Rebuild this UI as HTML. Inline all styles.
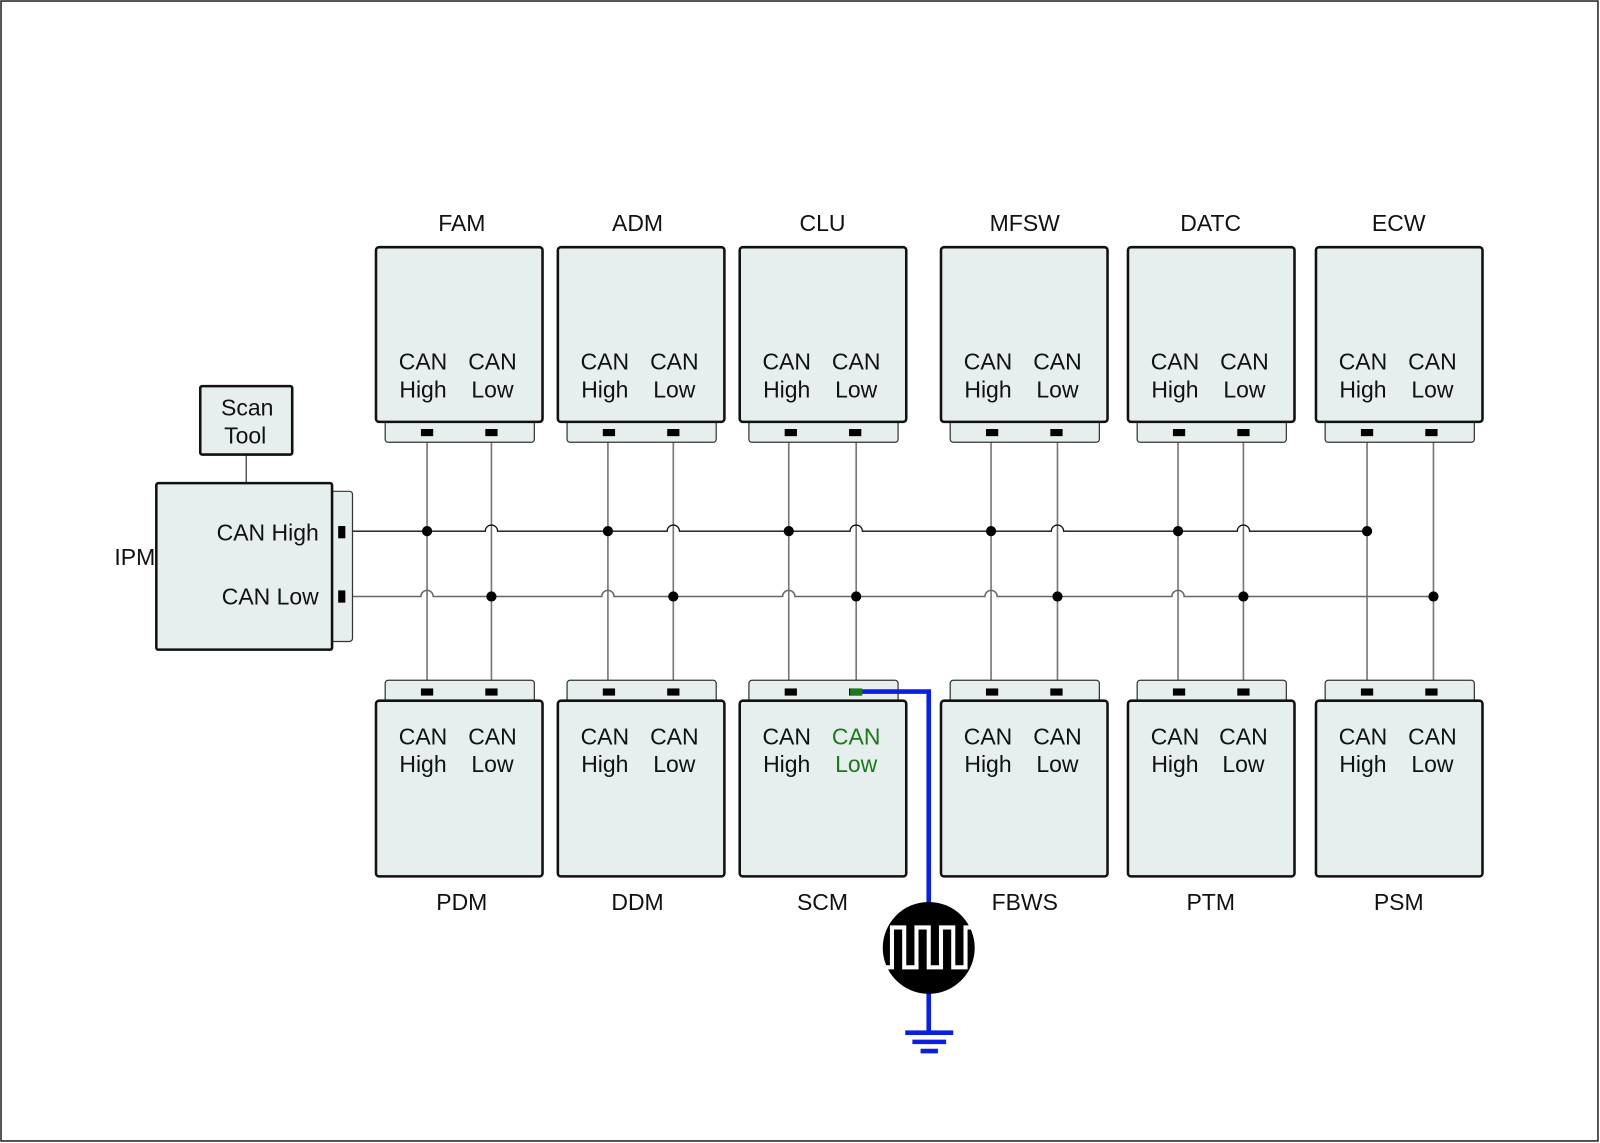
<!DOCTYPE html>
<html><head><meta charset="utf-8"><style>
html,body{margin:0;padding:0;background:#fff}
svg{display:block}
text{font-family:"Liberation Sans",sans-serif;font-size:22.5px;fill:#111}
.b{fill:#e6eeee;stroke:#111;stroke-width:2.5}
.s{fill:#e6eeee;stroke:#333;stroke-width:1.2}
.v{stroke:#777;stroke-width:1.6}
</style></head><body>
<svg width="1600" height="1143" viewBox="0 0 1566 1119" preserveAspectRatio="none" xmlns="http://www.w3.org/2000/svg">
<rect x="1" y="1" width="1563" height="1116" fill="#fff" stroke="#222" stroke-width="1.5"/>
<g class="v">
<line x1="418" y1="423" x2="418" y2="677"/><line x1="481" y1="423" x2="481" y2="677"/>
<line x1="595" y1="423" x2="595" y2="677"/><line x1="659" y1="423" x2="659" y2="677"/>
<line x1="772" y1="423" x2="772" y2="677"/><line x1="838" y1="423" x2="838" y2="677"/>
<line x1="970" y1="423" x2="970" y2="677"/><line x1="1035" y1="423" x2="1035" y2="677"/>
<line x1="1153" y1="423" x2="1153" y2="677"/><line x1="1217" y1="423" x2="1217" y2="677"/>
<line x1="1338" y1="423" x2="1338" y2="677"/><line x1="1403" y1="423" x2="1403" y2="677"/>
</g>
<path d="M335 520 H475 A6 6 0 0 1 487 520 H653 A6 6 0 0 1 665 520 H832 A6 6 0 0 1 844 520 H1029 A6 6 0 0 1 1041 520 H1211 A6 6 0 0 1 1223 520 H1338" fill="none" stroke="#111" stroke-width="1.3"/>
<path d="M335 584 H412 A6 6 0 0 1 424 584 H589 A6 6 0 0 1 601 584 H766 A6 6 0 0 1 778 584 H964 A6 6 0 0 1 976 584 H1147 A6 6 0 0 1 1159 584 H1403" fill="none" stroke="#666" stroke-width="1.5"/>
<g fill="#000">
<circle cx="418" cy="520" r="5"/><circle cx="595" cy="520" r="5"/><circle cx="772" cy="520" r="5"/><circle cx="970" cy="520" r="5"/><circle cx="1153" cy="520" r="5"/><circle cx="1338" cy="520" r="5"/>
<circle cx="481" cy="584" r="5"/><circle cx="659" cy="584" r="5"/><circle cx="838" cy="584" r="5"/><circle cx="1035" cy="584" r="5"/><circle cx="1217" cy="584" r="5"/><circle cx="1403" cy="584" r="5"/>
</g>
<line x1="241" y1="445" x2="241" y2="473" stroke="#444" stroke-width="1.3"/>
<rect class="b" x="196" y="378" width="90" height="67" rx="2"/>
<text x="242" y="407" text-anchor="middle">Scan</text><text x="240" y="434" text-anchor="middle">Tool</text>
<rect class="s" x="318" y="481" width="27" height="147" rx="3"/>
<rect class="b" x="153" y="473" width="172" height="163" rx="2"/>
<rect x="331" y="515" width="7" height="12" fill="#000"/><rect x="331" y="578" width="7" height="12" fill="#000"/>
<text x="312" y="529" text-anchor="end">CAN High</text><text x="312" y="592" text-anchor="end">CAN Low</text>
<text x="112" y="553">IPM</text>
<g id="t">
<rect class="s" x="377" y="405" width="146" height="28" rx="3"/>
<rect class="b" x="368" y="242" width="163" height="171" rx="3"/>
<rect x="412" y="420" width="12" height="7" fill="#000"/><rect x="475" y="420" width="12" height="7" fill="#000"/>
<text x="414" y="362" text-anchor="middle">CAN</text><text x="414" y="389" text-anchor="middle">High</text>
<text x="482" y="362" text-anchor="middle">CAN</text><text x="482" y="389" text-anchor="middle">Low</text>
</g>
<use href="#t" x="178"/><use href="#t" x="356"/><use href="#t" x="553"/><use href="#t" x="736"/><use href="#t" x="920"/>
<text x="452" y="226" text-anchor="middle">FAM</text><text x="624" y="226" text-anchor="middle">ADM</text><text x="805" y="226" text-anchor="middle">CLU</text>
<text x="1003" y="226" text-anchor="middle">MFSW</text><text x="1185" y="226" text-anchor="middle">DATC</text><text x="1369" y="226" text-anchor="middle">ECW</text>
<g id="u">
<rect class="s" x="377" y="666" width="146" height="28" rx="3"/>
<rect class="b" x="368" y="686" width="163" height="172" rx="3"/>
<rect x="412" y="674" width="12" height="7" fill="#000"/><rect x="475" y="674" width="12" height="7" fill="#000"/>
<text x="414" y="729" text-anchor="middle">CAN</text><text x="414" y="756" text-anchor="middle">High</text>
</g>
<use href="#u" x="178"/><use href="#u" x="356"/><use href="#u" x="553"/><use href="#u" x="736"/><use href="#u" x="920"/>
<text x="482" y="729" text-anchor="middle">CAN</text><text x="482" y="756" text-anchor="middle">Low</text>
<text x="660" y="729" text-anchor="middle">CAN</text><text x="660" y="756" text-anchor="middle">Low</text>
<text x="838" y="729" text-anchor="middle" style="fill:#1a7a1a">CAN</text><text x="838" y="756" text-anchor="middle" style="fill:#1a7a1a">Low</text>
<text x="1035" y="729" text-anchor="middle">CAN</text><text x="1035" y="756" text-anchor="middle">Low</text>
<text x="1217" y="729" text-anchor="middle">CAN</text><text x="1217" y="756" text-anchor="middle">Low</text>
<text x="1402" y="729" text-anchor="middle">CAN</text><text x="1402" y="756" text-anchor="middle">Low</text>
<text x="452" y="891" text-anchor="middle">PDM</text><text x="624" y="891" text-anchor="middle">DDM</text><text x="805" y="891" text-anchor="middle">SCM</text>
<text x="1003" y="891" text-anchor="middle">FBWS</text><text x="1185" y="891" text-anchor="middle">PTM</text><text x="1369" y="891" text-anchor="middle">PSM</text>
<path d="M833 677 H909 V1011" fill="none" stroke="#0a1fe0" stroke-width="4.5"/>
<rect x="832" y="674" width="12" height="7" fill="#1a7a1a"/>
<circle cx="909" cy="928" r="45" fill="#000"/>
<polyline points="866,947 873,947 873,908 885,908 885,947 897,947 897,908 909,908 909,947 921,947 921,908 933,908 933,947 945,947 945,908 952,908" fill="none" stroke="#fff" stroke-width="4"/>
<g stroke="#0a1fe0" stroke-width="4.5"><line x1="886" y1="1011" x2="933" y2="1011"/><line x1="893" y1="1020" x2="926" y2="1020"/><line x1="901" y1="1029" x2="918" y2="1029"/></g>
</svg>
</body></html>
